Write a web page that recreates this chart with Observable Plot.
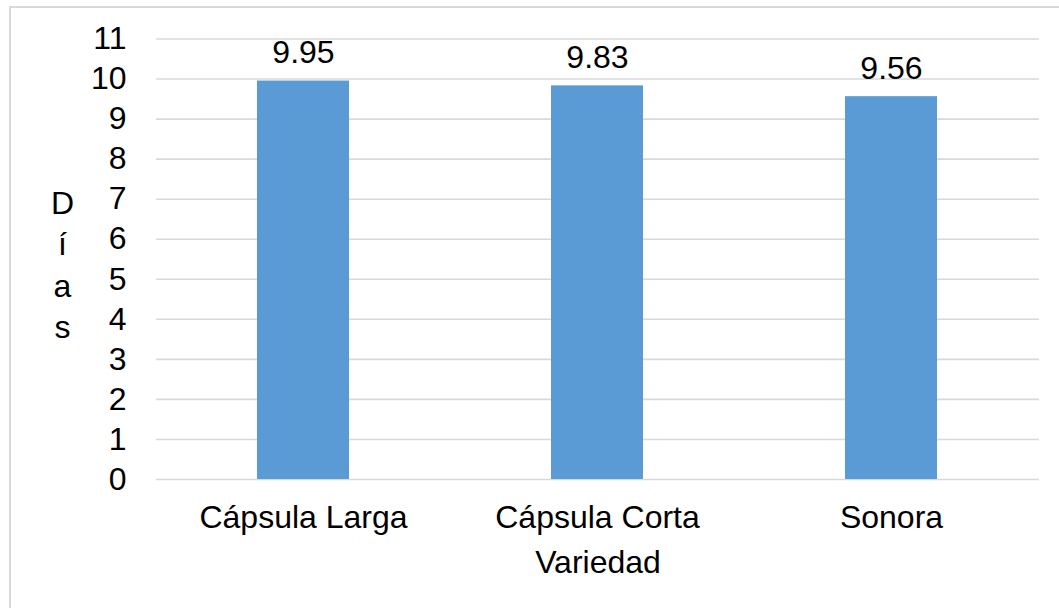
<!DOCTYPE html>
<html>
<head>
<meta charset="utf-8">
<script src="https://cdn.jsdelivr.net/npm/d3@7"></script>
<script src="https://cdn.jsdelivr.net/npm/@observablehq/plot@0.6"></script>
<style>
  html, body { margin: 0; padding: 0; background: #fff; overflow: hidden; }
  #wrap { position: relative; width: 1059px; height: 608px; overflow: hidden; }
  #border { position: absolute; left: 9px; top: 6px; width: 1200px; height: 800px;
            border-left: 2px solid #d9d9d9; border-top: 2px solid #d9d9d9; }
  #chart { position: absolute; left: 0; top: 0; }
  svg { font-family: "Liberation Sans", Arial, sans-serif; }
</style>
</head>
<body>
<div id="wrap"><div id="border"></div><div id="chart"></div></div>
<script>
const categories = ["Cápsula Larga", "Cápsula Corta", "Sonora"];
const values = [9.95, 9.83, 9.56];
const valueLabels = ["9.95", "9.83", "9.56"];
const yTicks = [0, 1, 2, 3, 4, 5, 6, 7, 8, 9, 10, 11];
const xTitle = "Variedad";
const yTitle = "Días";

const data = categories.map((c, i) => ({ cat: c, v: values[i], lab: valueLabels[i] }));
const font = "Liberation Sans, Arial, sans-serif";
const fs = 32;

const chart = Plot.plot({
  width: 1059,
  height: 608,
  marginLeft: 156,
  marginRight: 20,
  marginTop: 38.5,
  marginBottom: 129,
  style: { background: "transparent", color: "#000", fontFamily: font, fontSize: fs + "px" },
  x: { domain: categories, paddingInner: 0.687, paddingOuter: 0.3435, label: null },
  y: { domain: [0, 11], label: null },
  marks: [
    Plot.ruleY(yTicks, { stroke: "#d9d9d9", strokeWidth: 1.6 }),
    Plot.barY(data, { x: "cat", y: "v", fill: "#5B9BD5" }),
    Plot.text(data, { x: "cat", y: "v", text: "lab", lineAnchor: "bottom", dy: -18, fontSize: fs, fill: "#000" }),
    Plot.axisY({ ticks: yTicks, tickSize: 0, tickPadding: 30, fontSize: fs, label: null, tickFormat: d => String(d) }),
    Plot.axisX({ tickSize: 0, tickPadding: 26, fontSize: fs, label: null }),
    Plot.text([xTitle], { frameAnchor: "bottom", lineAnchor: "bottom", dy: 93, fontSize: fs, fill: "#000" }),
    Plot.text([yTitle.split("").join("\n")], { frameAnchor: "left", textAnchor: "middle", lineAnchor: "middle", dx: -94, dy: 3.5, lineHeight: 1.297, fontSize: fs, fill: "#000" })
  ]
});
document.getElementById("chart").appendChild(chart);
</script>
</body>
</html>
